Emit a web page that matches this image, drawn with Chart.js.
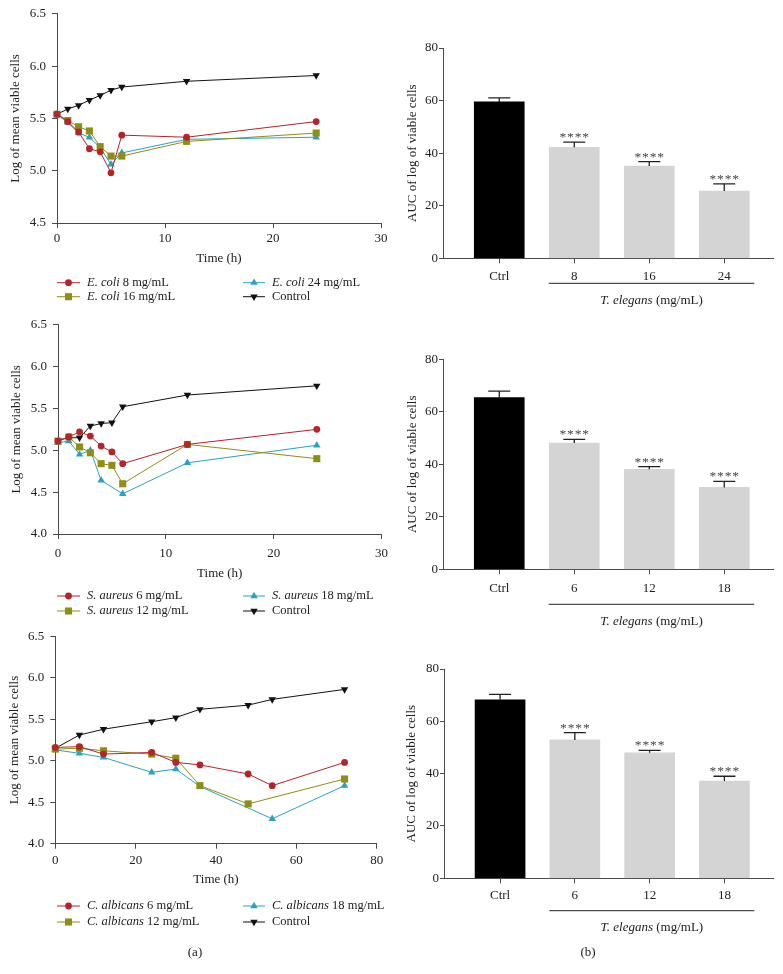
<!DOCTYPE html>
<html>
<head>
<meta charset="utf-8">
<script src="https://cdn.jsdelivr.net/npm/chart.js@4.4.1/dist/chart.umd.min.js"></script>
<style>
body { margin: 0; background: #fff; width: 783px; height: 974px; position: relative; overflow: hidden; font-family: 'Liberation Serif', serif; }
canvas { position: absolute; }
.tag { position: absolute; font-size: 13px; color: #222; transform: translate(-50%, -50%); }
</style>
</head>
<body>
<canvas id="l1" width="395" height="310" style="left:0;top:0"></canvas>
<canvas id="l2" width="395" height="310" style="left:0;top:310px"></canvas>
<canvas id="l3" width="395" height="354" style="left:0;top:620px"></canvas>
<canvas id="b1" width="400" height="310" style="left:383px;top:0"></canvas>
<canvas id="b2" width="400" height="320" style="left:383px;top:310px"></canvas>
<canvas id="b3" width="400" height="354" style="left:383px;top:620px"></canvas>
<div class="tag" style="left:195px;top:952px">(a)</div>
<div class="tag" style="left:588px;top:952px">(b)</div>
<script>
// time-kill curves (log of mean viable cells)
const ecoliTimes = [0, 1, 2, 3, 4, 5, 6, 12, 24];
const ecoli8 = [5.54, 5.47, 5.37, 5.21, 5.18, 4.98, 5.34, 5.32, 5.47];
const ecoli16 = [5.54, 5.48, 5.42, 5.38, 5.23, 5.14, 5.14, 5.28, 5.36];
const ecoli24 = [5.54, 5.46, 5.36, 5.32, 5.22, 5.06, 5.17, 5.30, 5.32];
const ecoliCtrl = [5.54, 5.59, 5.625, 5.675, 5.72, 5.77, 5.80, 5.855, 5.91];

const saTimes = [0, 1, 2, 3, 4, 5, 6, 12, 24];
const sa6 = [5.11, 5.16, 5.22, 5.17, 5.05, 4.98, 4.84, 5.07, 5.25];
const sa12 = [5.11, 5.16, 5.04, 4.97, 4.84, 4.82, 4.60, 5.07, 4.90];
const sa18 = [5.09, 5.11, 4.95, 5.00, 4.64, null, 4.48, 4.85, 5.06];
const saCtrl = [5.12, 5.15, 5.15, 5.29, 5.32, 5.33, 5.52, 5.66, 5.77];

const caTimes = [0, 6, 12, 24, 30, 36, 48, 54, 72];
const ca6 = [5.16, 5.17, 5.08, 5.10, 4.98, 4.95, 4.84, 4.70, 4.98];
const ca12 = [5.14, 5.15, 5.12, 5.08, 5.03, 4.70, 4.48, null, 4.78];
const ca18 = [5.13, 5.09, 5.04, 4.86, 4.90, 4.69, null, 4.30, 4.70];
const caCtrl = [5.15, 5.31, 5.38, 5.47, 5.52, 5.62, 5.67, 5.74, 5.86];

// AUC bars
const aucLabels1 = ['Ctrl', '8', '16', '24'];
const aucLabels2 = ['Ctrl', '6', '12', '18'];
const aucEcoli = [59.5, 42.2, 35.1, 25.6];
const errEcoli = [1.5, 2.0, 1.7, 2.7];
const aucSaureus = [65.4, 48.1, 38.1, 31.2];
const errSaureus = [2.5, 1.4, 1.0, 2.3];
const aucCalb = [68.2, 52.9, 48.0, 37.2];
const errCalb = [2.1, 2.8, 0.9, 1.8];

const FONT = "'Liberation Serif', 'DejaVu Serif', serif";
Chart.defaults.font.family = FONT;
Chart.defaults.font.size = 13;
Chart.defaults.color = '#222';
Chart.defaults.animation = false;

const AXIS = '#4a4a4a';
const RED = '#b3242b', OLIVE = '#8e8e14', CYAN = '#29a2c2', BLACK = '#111';

function series(times, vals, color, style, radius, rotation) {
    return {
        data: times.map((t, i) => ({ x: t, y: vals[i] })),
        borderColor: color,
        backgroundColor: color,
        borderWidth: 1,
        pointStyle: style,
        pointRadius: radius,
        pointRotation: rotation || 0,
        pointBorderWidth: 0,
        spanGaps: true,
        clip: false,
        tension: 0
    };
}

// two-column legend under the time-kill plots
const lineLegend = {
    id: 'lineLegend',
    afterDraw(chart, args, opts) {
        const ctx = chart.ctx;
        const base = chart.chartArea.bottom;
        const order = [0, 2, 1, 3];
        order.forEach((d, k) => {
            const ds = chart.data.datasets[d];
            const col = k % 2, row = Math.floor(k / 2);
            const y = base + opts.rows[row];
            const x0 = col ? 243 : 57, x1 = col ? 265 : 80, tx = col ? 272 : 87;
            ctx.save();
            ctx.strokeStyle = ds.borderColor;
            ctx.fillStyle = ds.backgroundColor;
            ctx.lineWidth = 1;
            ctx.beginPath();
            ctx.moveTo(x0, y);
            ctx.lineTo(x1, y);
            ctx.stroke();
            Chart.helpers.drawPoint(ctx, {
                pointStyle: ds.pointStyle, radius: ds.pointRadius,
                rotation: ds.pointRotation, borderWidth: 0
            }, (x0 + x1) / 2, y);
            ctx.fillStyle = '#222';
            ctx.textBaseline = 'middle';
            const it = opts.items[k];
            if (it.sp) {
                ctx.font = 'italic 12.5px ' + FONT;
                ctx.fillText(it.sp, tx, y);
                const w = ctx.measureText(it.sp + ' ').width;
                ctx.font = '12.5px ' + FONT;
                ctx.fillText(it.dose, tx + w, y);
            } else {
                ctx.font = '12.5px ' + FONT;
                ctx.fillText(it.dose, tx, y);
            }
            ctx.restore();
        });
    }
};

function lineChart(id, times, sets, species, doses, L) {
    const datasets = [
        series(times, sets[0], RED, 'circle', 3.4),
        series(times, sets[1], OLIVE, 'rect', 5),
        series(times, sets[2], CYAN, 'triangle', 4.3),
        series(times, sets[3], BLACK, 'triangle', 4.3, 180)
    ];
    const items = [
        { sp: species, dose: doses[0] + ' mg/mL' },
        { sp: species, dose: doses[2] + ' mg/mL' },
        { sp: species, dose: doses[1] + ' mg/mL' },
        { sp: null, dose: 'Control' }
    ];
    new Chart(document.getElementById(id), {
        type: 'line',
        data: { datasets },
        plugins: [lineLegend],
        options: {
            responsive: false,
            layout: { padding: { left: 0, top: L.top, right: L.right, bottom: L.bottom } },
            plugins: { legend: { display: false }, tooltip: { enabled: false }, lineLegend: { items, rows: L.rows } },
            scales: {
                x: {
                    type: 'linear', min: 0, max: L.xMax,
                    ticks: { stepSize: L.xStep, padding: L.xPad },
                    grid: { drawOnChartArea: false, tickLength: 5, color: AXIS },
                    border: { color: AXIS, width: 1 },
                    title: { display: true, text: 'Time (h)', padding: 0 },
                    afterFit: s => { s.height = L.xH; }
                },
                y: {
                    min: L.yMin, max: 6.5,
                    ticks: { stepSize: 0.5, padding: 6, callback: v => v.toFixed(1) },
                    grid: { drawOnChartArea: false, tickLength: 5, color: AXIS },
                    border: { color: AXIS, width: 1 },
                    title: { display: true, text: 'Log of mean viable cells', padding: { top: L.yTitle, bottom: 0 } },
                    afterFit: s => { s.width = L.yW; }
                }
            }
        }
    });
}

// error bars, significance stars and the T. elegans group line
const errorBars = {
    id: 'errorBars',
    afterDatasetsDraw(chart, args, opts) {
        const ctx = chart.ctx, ys = chart.scales.y, xs = chart.scales.x;
        const meta = chart.getDatasetMeta(0);
        ctx.save();
        meta.data.forEach((bar, i) => {
            const v = chart.data.datasets[0].data[i].y;
            const yt = ys.getPixelForValue(v + opts.errors[i]);
            ctx.strokeStyle = '#222';
            ctx.lineWidth = 1.3;
            ctx.beginPath();
            ctx.moveTo(bar.x, bar.y);
            ctx.lineTo(bar.x, yt);
            ctx.moveTo(bar.x - 11, yt);
            ctx.lineTo(bar.x + 11, yt);
            ctx.stroke();
            if (i > 0) {
                ctx.fillStyle = '#444';
                ctx.font = '13.5px ' + FONT;
                ctx.textAlign = 'center';
                ctx.textBaseline = 'alphabetic';
                for (let k = 0; k < 4; k++) ctx.fillText('*', bar.x + (k - 1.5) * 7.6, yt - 1);
            }
        });
        const xa = xs.getPixelForValue(0.66), xb = xs.getPixelForValue(3.4);
        const yl = xs.top + opts.lineOff;
        ctx.strokeStyle = '#222';
        ctx.lineWidth = 1;
        ctx.beginPath();
        ctx.moveTo(xa, yl);
        ctx.lineTo(xb, yl);
        ctx.stroke();
        const a = 'T. elegans', b = ' (mg/mL)';
        ctx.font = 'italic 13px ' + FONT;
        const wa = ctx.measureText(a).width;
        ctx.font = '13px ' + FONT;
        const wb = ctx.measureText(b).width;
        const sx = (xa + xb) / 2 - (wa + wb) / 2;
        ctx.fillStyle = '#222';
        ctx.textAlign = 'left';
        ctx.textBaseline = 'middle';
        ctx.font = 'italic 13px ' + FONT;
        ctx.fillText(a, sx, yl + 17);
        ctx.font = '13px ' + FONT;
        ctx.fillText(b, sx + wa, yl + 17);
        ctx.restore();
    }
};

function barChart(id, labels, vals, errs, L) {
    new Chart(document.getElementById(id), {
        type: 'bar',
        data: {
            datasets: [{
                data: vals.map((v, i) => ({ x: i, y: v })),
                backgroundColor: vals.map((v, i) => i === 0 ? '#000' : '#d4d4d4'),
                borderWidth: 0,
                barThickness: 50
            }]
        },
        plugins: [errorBars],
        options: {
            responsive: false,
            layout: { padding: { left: 0, top: L.top, right: 10, bottom: L.bottom } },
            plugins: { legend: { display: false }, tooltip: { enabled: false }, errorBars: { errors: errs, lineOff: L.lineOff } },
            scales: {
                x: {
                    type: 'linear', min: -0.75, max: 3.65, offset: false,
                    afterBuildTicks: s => { s.ticks = labels.map((l, i) => ({ value: i })); },
                    ticks: { padding: L.xPad, callback: v => labels[v] },
                    grid: { offset: false, drawOnChartArea: false, tickLength: 5, color: AXIS },
                    border: { color: AXIS, width: 1 },
                    afterFit: s => { s.height = 30; }
                },
                y: {
                    min: 0, max: 80,
                    ticks: { stepSize: 20, padding: 1 },
                    grid: { drawOnChartArea: false, tickLength: 4, color: AXIS },
                    border: { color: AXIS, width: 1 },
                    title: { display: true, text: 'AUC of log of viable cells', padding: { top: L.yTitle, bottom: 0 } },
                    afterFit: s => { s.width = L.yW; }
                }
            }
        }
    });
}

lineChart('l1', ecoliTimes, [ecoli8, ecoli16, ecoli24, ecoliCtrl], 'E. coli', [8, 16, 24],
    { top: 12, right: 14, bottom: 44, xH: 43, xPad: 3, xMax: 30, xStep: 10, yMin: 4.5, yW: 57, yTitle: 8.2, rows: [59.7, 73.7] });
lineChart('l2', saTimes, [sa6, sa12, sa18, saCtrl], 'S. aureus', [6, 12, 18],
    { top: 14.7, right: 13.5, bottom: 39, xH: 47, xPad: 6.5, xMax: 30, xStep: 10, yMin: 4.0, yW: 58, yTitle: 8.9, rows: [62, 77] });
lineChart('l3', caTimes, [ca6, ca12, ca18, caCtrl], 'C. albicans', [6, 12, 18],
    { top: 16.3, right: 18.3, bottom: 86.3, xH: 44, xPad: 4, xMax: 80, xStep: 20, yMin: 4.0, yW: 55.3, yTitle: 7.2, rows: [62.3, 78.3] });

barChart('b1', aucLabels1, aucEcoli, errEcoli, { top: 48, bottom: 21.7, xPad: 5.6, yW: 60, yTitle: 22.2, lineOff: 25 });
barChart('b2', aucLabels2, aucSaureus, errSaureus, { top: 49.3, bottom: 30.7, xPad: 6.2, yW: 60, yTitle: 22.2, lineOff: 35 });
barChart('b3', aucLabels2, aucCalb, errCalb, { top: 49, bottom: 65.7, xPad: 4.9, yW: 61, yTitle: 21, lineOff: 32.4 });
</script>
</body>
</html>
